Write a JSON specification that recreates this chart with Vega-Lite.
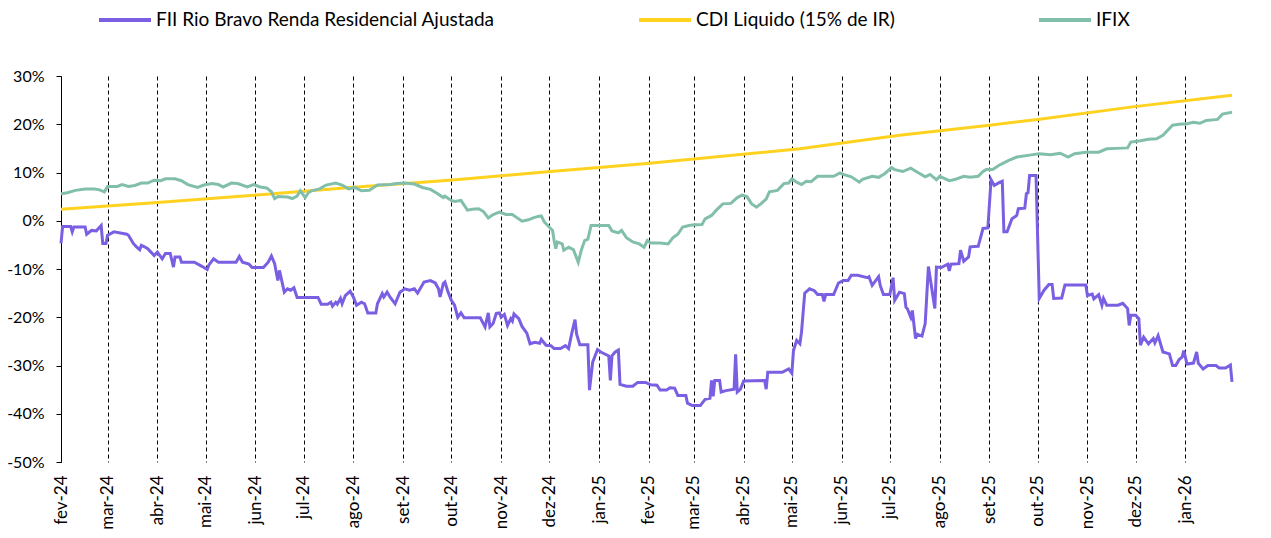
{
  "$schema": "https://vega.github.io/schema/vega-lite/v6.json",
  "width": 1171,
  "height": 386,
  "autosize": {"type": "none"},
  "padding": {"left": 61, "top": 76, "right": 39, "bottom": 76},
  "background": "white",
  "config": {"view": {"stroke": null}, "font": "Lato"},
  "datasets": {
    "fii": [
      {"d":"2024-02-01","v":-4.7},{"d":"2024-02-02","v":-1.2},{"d":"2024-02-07","v":-1.2},{"d":"2024-02-08","v":-2.3},{"d":"2024-02-09","v":-1.3},{"d":"2024-02-16","v":-1.3},{"d":"2024-02-17","v":-2.8},{"d":"2024-02-20","v":-2.0},{"d":"2024-02-23","v":-2.1},{"d":"2024-02-26","v":-1.0},{"d":"2024-02-27","v":-4.7},{"d":"2024-02-29","v":-4.7},
      {"d":"2024-03-01","v":-3.0},{"d":"2024-03-05","v":-2.3},{"d":"2024-03-13","v":-2.8},{"d":"2024-03-14","v":-3.0},{"d":"2024-03-17","v":-4.7},{"d":"2024-03-19","v":-5.4},{"d":"2024-03-21","v":-6.0},{"d":"2024-03-22","v":-5.1},{"d":"2024-03-24","v":-5.4},{"d":"2024-03-26","v":-5.8},{"d":"2024-03-28","v":-6.5},{"d":"2024-03-30","v":-7.2},
      {"d":"2024-04-01","v":-6.5},{"d":"2024-04-04","v":-7.9},{"d":"2024-04-06","v":-6.8},{"d":"2024-04-09","v":-6.8},{"d":"2024-04-11","v":-9.6},{"d":"2024-04-12","v":-7.5},{"d":"2024-04-15","v":-7.5},{"d":"2024-04-16","v":-8.6},{"d":"2024-04-24","v":-8.6},{"d":"2024-04-29","v":-9.5},
      {"d":"2024-05-02","v":-10.1},{"d":"2024-05-03","v":-9.2},{"d":"2024-05-06","v":-7.9},{"d":"2024-05-09","v":-8.6},{"d":"2024-05-20","v":-8.6},{"d":"2024-05-22","v":-7.4},{"d":"2024-05-24","v":-8.6},{"d":"2024-05-28","v":-9.0},{"d":"2024-05-30","v":-9.7},
      {"d":"2024-06-06","v":-9.7},{"d":"2024-06-09","v":-8.6},{"d":"2024-06-11","v":-7.3},{"d":"2024-06-13","v":-8.9},{"d":"2024-06-15","v":-12.4},{"d":"2024-06-16","v":-10.3},{"d":"2024-06-19","v":-14.8},{"d":"2024-06-21","v":-14.1},{"d":"2024-06-23","v":-14.4},{"d":"2024-06-25","v":-13.9},{"d":"2024-06-27","v":-15.9},
      {"d":"2024-07-10","v":-15.9},{"d":"2024-07-12","v":-17.3},{"d":"2024-07-16","v":-17.3},{"d":"2024-07-18","v":-16.9},{"d":"2024-07-19","v":-17.7},{"d":"2024-07-21","v":-16.9},{"d":"2024-07-22","v":-17.3},{"d":"2024-07-24","v":-16.1},{"d":"2024-07-25","v":-17.2},{"d":"2024-07-27","v":-15.5},{"d":"2024-07-30","v":-14.6},
      {"d":"2024-08-01","v":-15.8},{"d":"2024-08-03","v":-17.5},{"d":"2024-08-06","v":-16.9},{"d":"2024-08-08","v":-17.2},{"d":"2024-08-10","v":-19.1},{"d":"2024-08-15","v":-19.1},{"d":"2024-08-16","v":-17.2},{"d":"2024-08-19","v":-15.1},{"d":"2024-08-20","v":-15.8},{"d":"2024-08-22","v":-14.8},{"d":"2024-08-24","v":-15.9},{"d":"2024-08-27","v":-17.2},{"d":"2024-08-30","v":-14.8},
      {"d":"2024-09-02","v":-14.1},{"d":"2024-09-05","v":-14.4},{"d":"2024-09-08","v":-14.1},{"d":"2024-09-10","v":-15.0},{"d":"2024-09-14","v":-12.7},{"d":"2024-09-18","v":-12.4},{"d":"2024-09-21","v":-12.9},{"d":"2024-09-23","v":-14.1},{"d":"2024-09-24","v":-15.8},{"d":"2024-09-26","v":-13.0},{"d":"2024-09-27","v":-12.7},{"d":"2024-09-29","v":-14.8},
      {"d":"2024-10-01","v":-16.5},{"d":"2024-10-03","v":-17.5},{"d":"2024-10-05","v":-20.0},{"d":"2024-10-07","v":-19.1},{"d":"2024-10-09","v":-20.1},{"d":"2024-10-19","v":-20.1},{"d":"2024-10-22","v":-22.0},{"d":"2024-10-24","v":-19.1},{"d":"2024-10-25","v":-22.0},{"d":"2024-10-27","v":-21.3},{"d":"2024-10-29","v":-19.2},{"d":"2024-10-31","v":-19.1},
      {"d":"2024-11-01","v":-20.0},{"d":"2024-11-03","v":-19.4},{"d":"2024-11-05","v":-21.7},{"d":"2024-11-07","v":-20.3},{"d":"2024-11-08","v":-20.8},{"d":"2024-11-09","v":-19.3},{"d":"2024-11-12","v":-20.3},{"d":"2024-11-14","v":-21.9},{"d":"2024-11-17","v":-23.3},{"d":"2024-11-19","v":-25.5},{"d":"2024-11-22","v":-25.2},{"d":"2024-11-25","v":-25.4},{"d":"2024-11-26","v":-24.6},{"d":"2024-11-29","v":-25.8},
      {"d":"2024-12-02","v":-25.9},{"d":"2024-12-04","v":-26.5},{"d":"2024-12-08","v":-26.5},{"d":"2024-12-11","v":-25.9},{"d":"2024-12-13","v":-26.5},{"d":"2024-12-15","v":-23.3},{"d":"2024-12-17","v":-20.5},{"d":"2024-12-18","v":-23.5},{"d":"2024-12-20","v":-25.7},{"d":"2024-12-25","v":-25.7},{"d":"2024-12-26","v":-35.1},{"d":"2024-12-28","v":-29.3},{"d":"2024-12-31","v":-26.7},
      {"d":"2025-01-02","v":-27.2},{"d":"2025-01-07","v":-28.0},{"d":"2025-01-08","v":-33.1},{"d":"2025-01-09","v":-28.0},{"d":"2025-01-11","v":-27.2},{"d":"2025-01-13","v":-26.8},{"d":"2025-01-14","v":-33.9},{"d":"2025-01-18","v":-34.3},{"d":"2025-01-22","v":-34.3},{"d":"2025-01-25","v":-33.5},{"d":"2025-01-30","v":-33.5},
      {"d":"2025-02-02","v":-34.0},{"d":"2025-02-06","v":-34.1},{"d":"2025-02-08","v":-35.1},{"d":"2025-02-12","v":-35.1},{"d":"2025-02-14","v":-34.6},{"d":"2025-02-17","v":-34.7},{"d":"2025-02-19","v":-36.2},{"d":"2025-02-24","v":-36.2},{"d":"2025-02-25","v":-37.8},{"d":"2025-02-28","v":-38.3},
      {"d":"2025-03-05","v":-38.3},{"d":"2025-03-08","v":-37.0},{"d":"2025-03-11","v":-36.8},{"d":"2025-03-12","v":-33.1},{"d":"2025-03-13","v":-36.4},{"d":"2025-03-14","v":-33.1},{"d":"2025-03-17","v":-33.1},{"d":"2025-03-18","v":-35.5},{"d":"2025-03-21","v":-35.2},{"d":"2025-03-26","v":-34.9},{"d":"2025-03-27","v":-27.7},{"d":"2025-03-28","v":-35.5},{"d":"2025-03-30","v":-34.9},
      {"d":"2025-04-01","v":-33.2},{"d":"2025-04-14","v":-33.1},{"d":"2025-04-15","v":-34.9},{"d":"2025-04-16","v":-31.4},{"d":"2025-04-25","v":-31.4},{"d":"2025-04-29","v":-30.7},
      {"d":"2025-05-01","v":-31.6},{"d":"2025-05-02","v":-26.9},{"d":"2025-05-04","v":-24.8},{"d":"2025-05-06","v":-25.5},{"d":"2025-05-07","v":-23.1},{"d":"2025-05-09","v":-15.0},{"d":"2025-05-12","v":-14.1},{"d":"2025-05-15","v":-14.5},{"d":"2025-05-17","v":-15.3},{"d":"2025-05-20","v":-15.3},{"d":"2025-05-21","v":-16.7},{"d":"2025-05-22","v":-15.3},{"d":"2025-05-27","v":-15.3},{"d":"2025-05-30","v":-12.9},
      {"d":"2025-06-02","v":-12.4},{"d":"2025-06-05","v":-12.4},{"d":"2025-06-07","v":-11.3},{"d":"2025-06-11","v":-11.3},{"d":"2025-06-17","v":-11.8},{"d":"2025-06-18","v":-11.6},{"d":"2025-06-20","v":-13.4},{"d":"2025-06-24","v":-11.6},{"d":"2025-06-25","v":-13.4},{"d":"2025-06-27","v":-15.3},
      {"d":"2025-07-01","v":-15.3},{"d":"2025-07-03","v":-11.8},{"d":"2025-07-04","v":-16.5},{"d":"2025-07-07","v":-14.8},{"d":"2025-07-10","v":-15.1},{"d":"2025-07-11","v":-17.9},{"d":"2025-07-12","v":-18.3},{"d":"2025-07-14","v":-20.0},{"d":"2025-07-15","v":-18.6},{"d":"2025-07-17","v":-24.4},{"d":"2025-07-18","v":-23.5},{"d":"2025-07-21","v":-23.9},{"d":"2025-07-23","v":-21.3},{"d":"2025-07-25","v":-9.5},{"d":"2025-07-29","v":-18.2},{"d":"2025-07-30","v":-9.6},
      {"d":"2025-08-02","v":-9.7},{"d":"2025-08-06","v":-9.0},{"d":"2025-08-07","v":-10.4},{"d":"2025-08-08","v":-9.0},{"d":"2025-08-13","v":-8.9},{"d":"2025-08-14","v":-6.1},{"d":"2025-08-16","v":-8.4},{"d":"2025-08-19","v":-7.5},{"d":"2025-08-20","v":-5.4},{"d":"2025-08-25","v":-5.3},{"d":"2025-08-28","v":-1.6},{"d":"2025-08-31","v":-1.5},
      {"d":"2025-09-02","v":8.5},{"d":"2025-09-04","v":7.3},{"d":"2025-09-07","v":7.9},{"d":"2025-09-09","v":8.2},{"d":"2025-09-10","v":-2.3},{"d":"2025-09-12","v":-2.3},{"d":"2025-09-15","v":0.4},{"d":"2025-09-18","v":1.1},{"d":"2025-09-19","v":2.5},{"d":"2025-09-23","v":2.6},{"d":"2025-09-24","v":5.6},{"d":"2025-09-25","v":5.8},{"d":"2025-09-26","v":9.4},{"d":"2025-09-30","v":9.4},
      {"d":"2025-10-02","v":-16.1},{"d":"2025-10-05","v":-14.4},{"d":"2025-10-08","v":-13.2},{"d":"2025-10-10","v":-13.2},{"d":"2025-10-11","v":-16.1},{"d":"2025-10-16","v":-16.0},{"d":"2025-10-18","v":-13.3},{"d":"2025-10-31","v":-13.3},
      {"d":"2025-11-01","v":-15.5},{"d":"2025-11-04","v":-15.2},{"d":"2025-11-05","v":-16.2},{"d":"2025-11-08","v":-15.3},{"d":"2025-11-10","v":-17.5},{"d":"2025-11-11","v":-16.1},{"d":"2025-11-13","v":-17.5},{"d":"2025-11-20","v":-17.5},{"d":"2025-11-23","v":-17.1},{"d":"2025-11-26","v":-18.2},{"d":"2025-11-27","v":-21.7},{"d":"2025-11-28","v":-19.6},
      {"d":"2025-12-01","v":-19.6},{"d":"2025-12-03","v":-20.3},{"d":"2025-12-04","v":-25.8},{"d":"2025-12-06","v":-24.1},{"d":"2025-12-09","v":-25.5},{"d":"2025-12-12","v":-24.4},{"d":"2025-12-13","v":-25.3},{"d":"2025-12-15","v":-23.8},{"d":"2025-12-18","v":-27.2},{"d":"2025-12-22","v":-27.6},{"d":"2025-12-24","v":-30.0},{"d":"2025-12-26","v":-30.0},{"d":"2025-12-28","v":-28.8},{"d":"2025-12-30","v":-28.2},{"d":"2025-12-31","v":-26.9},
      {"d":"2026-01-02","v":-29.7},{"d":"2026-01-06","v":-29.5},{"d":"2026-01-08","v":-27.2},{"d":"2026-01-09","v":-29.5},{"d":"2026-01-12","v":-30.7},{"d":"2026-01-15","v":-30.0},{"d":"2026-01-20","v":-30.0},{"d":"2026-01-22","v":-30.5},{"d":"2026-01-26","v":-30.5},{"d":"2026-01-29","v":-29.9},{"d":"2026-01-30","v":-33.4}
    ],
    "cdi": [
      {"d":"2024-02-01","v":2.4},{"d":"2024-03-30","v":3.75},{"d":"2024-05-31","v":5.3},{"d":"2024-07-30","v":6.9},{"d":"2024-09-30","v":8.4},{"d":"2024-11-28","v":10.1},{"d":"2025-01-29","v":11.8},{"d":"2025-05-06","v":14.9},{"d":"2025-07-07","v":17.7},{"d":"2025-09-01","v":19.8},{"d":"2025-10-01","v":21.0},{"d":"2025-11-29","v":23.6},{"d":"2026-01-30","v":26.0}
    ],
    "ifix": [
      {"d":"2024-02-01","v":5.6},{"d":"2024-02-05","v":5.8},{"d":"2024-02-10","v":6.3},{"d":"2024-02-16","v":6.6},{"d":"2024-02-22","v":6.6},{"d":"2024-02-25","v":6.4},{"d":"2024-02-28","v":6.0},
      {"d":"2024-03-01","v":7.1},{"d":"2024-03-07","v":7.1},{"d":"2024-03-10","v":7.5},{"d":"2024-03-14","v":7.1},{"d":"2024-03-18","v":7.3},{"d":"2024-03-22","v":7.8},{"d":"2024-03-26","v":7.8},{"d":"2024-03-30","v":8.4},
      {"d":"2024-04-03","v":8.3},{"d":"2024-04-06","v":8.7},{"d":"2024-04-12","v":8.7},{"d":"2024-04-16","v":8.3},{"d":"2024-04-20","v":7.5},{"d":"2024-04-26","v":6.9},{"d":"2024-04-30","v":7.4},
      {"d":"2024-05-05","v":7.7},{"d":"2024-05-09","v":7.5},{"d":"2024-05-12","v":7.0},{"d":"2024-05-17","v":7.8},{"d":"2024-05-21","v":7.7},{"d":"2024-05-27","v":7.0},{"d":"2024-05-31","v":7.5},
      {"d":"2024-06-04","v":7.0},{"d":"2024-06-08","v":6.8},{"d":"2024-06-11","v":6.0},{"d":"2024-06-13","v":4.6},{"d":"2024-06-15","v":5.0},{"d":"2024-06-21","v":4.9},{"d":"2024-06-24","v":4.6},{"d":"2024-06-27","v":5.1},{"d":"2024-06-29","v":6.2},
      {"d":"2024-07-02","v":4.8},{"d":"2024-07-04","v":5.8},{"d":"2024-07-06","v":6.2},{"d":"2024-07-11","v":6.6},{"d":"2024-07-15","v":7.4},{"d":"2024-07-21","v":7.8},{"d":"2024-07-25","v":7.4},{"d":"2024-07-29","v":6.6},
      {"d":"2024-08-02","v":6.9},{"d":"2024-08-06","v":6.2},{"d":"2024-08-11","v":6.3},{"d":"2024-08-16","v":7.4},{"d":"2024-08-24","v":7.5},{"d":"2024-08-28","v":7.7},
      {"d":"2024-09-02","v":7.8},{"d":"2024-09-08","v":7.6},{"d":"2024-09-13","v":6.9},{"d":"2024-09-18","v":6.5},{"d":"2024-09-22","v":5.7},{"d":"2024-09-26","v":4.8},{"d":"2024-09-27","v":5.1},
      {"d":"2024-10-01","v":4.2},{"d":"2024-10-03","v":4.0},{"d":"2024-10-07","v":4.2},{"d":"2024-10-11","v":2.2},{"d":"2024-10-14","v":2.4},{"d":"2024-10-18","v":2.5},{"d":"2024-10-21","v":1.9},{"d":"2024-10-24","v":0.6},{"d":"2024-10-27","v":1.3},{"d":"2024-10-31","v":1.8},
      {"d":"2024-11-04","v":1.3},{"d":"2024-11-08","v":1.3},{"d":"2024-11-11","v":0.6},{"d":"2024-11-14","v":-0.1},{"d":"2024-11-18","v":0.2},{"d":"2024-11-21","v":0.6},{"d":"2024-11-24","v":0.9},{"d":"2024-11-26","v":1.0},{"d":"2024-11-28","v":-0.3},{"d":"2024-11-30","v":-1.0},
      {"d":"2024-12-03","v":-2.0},{"d":"2024-12-04","v":-4.1},{"d":"2024-12-05","v":-5.8},{"d":"2024-12-06","v":-4.4},{"d":"2024-12-09","v":-4.8},{"d":"2024-12-10","v":-6.1},{"d":"2024-12-13","v":-5.5},{"d":"2024-12-16","v":-6.0},{"d":"2024-12-19","v":-8.6},{"d":"2024-12-21","v":-6.0},{"d":"2024-12-23","v":-4.1},{"d":"2024-12-25","v":-3.8},{"d":"2024-12-27","v":-1.0},
      {"d":"2025-01-07","v":-1.0},{"d":"2025-01-09","v":-2.1},{"d":"2025-01-13","v":-2.5},{"d":"2025-01-15","v":-2.0},{"d":"2025-01-18","v":-3.5},{"d":"2025-01-22","v":-4.4},{"d":"2025-01-26","v":-4.8},{"d":"2025-01-29","v":-5.5},{"d":"2025-01-31","v":-4.1},
      {"d":"2025-02-02","v":-4.6},{"d":"2025-02-08","v":-4.6},{"d":"2025-02-13","v":-4.8},{"d":"2025-02-16","v":-3.5},{"d":"2025-02-19","v":-2.8},{"d":"2025-02-22","v":-1.3},{"d":"2025-02-26","v":-1.0},{"d":"2025-02-28","v":-0.9},
      {"d":"2025-03-06","v":-0.8},{"d":"2025-03-08","v":0.4},{"d":"2025-03-12","v":1.1},{"d":"2025-03-15","v":2.2},{"d":"2025-03-19","v":3.5},{"d":"2025-03-24","v":3.6},{"d":"2025-03-28","v":4.8},{"d":"2025-03-31","v":5.3},
      {"d":"2025-04-03","v":5.0},{"d":"2025-04-06","v":3.5},{"d":"2025-04-09","v":2.8},{"d":"2025-04-12","v":3.6},{"d":"2025-04-15","v":4.5},{"d":"2025-04-17","v":6.0},{"d":"2025-04-22","v":6.3},{"d":"2025-04-26","v":7.7},{"d":"2025-04-29","v":7.8},
      {"d":"2025-05-01","v":8.7},{"d":"2025-05-04","v":8.0},{"d":"2025-05-07","v":7.5},{"d":"2025-05-10","v":8.2},{"d":"2025-05-13","v":8.1},{"d":"2025-05-17","v":9.2},{"d":"2025-05-27","v":9.2},{"d":"2025-05-31","v":9.9},
      {"d":"2025-06-02","v":9.6},{"d":"2025-06-07","v":9.1},{"d":"2025-06-12","v":8.0},{"d":"2025-06-14","v":8.6},{"d":"2025-06-20","v":9.2},{"d":"2025-06-24","v":9.0},{"d":"2025-06-28","v":9.8},
      {"d":"2025-07-02","v":11.0},{"d":"2025-07-04","v":10.6},{"d":"2025-07-09","v":10.2},{"d":"2025-07-14","v":10.9},{"d":"2025-07-19","v":9.9},{"d":"2025-07-23","v":9.1},{"d":"2025-07-26","v":9.6},{"d":"2025-07-30","v":8.5},
      {"d":"2025-08-01","v":9.2},{"d":"2025-08-07","v":8.3},{"d":"2025-08-11","v":8.6},{"d":"2025-08-16","v":9.2},{"d":"2025-08-20","v":9.0},{"d":"2025-08-25","v":9.2},{"d":"2025-08-28","v":10.2},{"d":"2025-08-30","v":10.6},
      {"d":"2025-09-03","v":10.6},{"d":"2025-09-07","v":11.5},{"d":"2025-09-10","v":12.0},{"d":"2025-09-13","v":12.5},{"d":"2025-09-18","v":13.2},{"d":"2025-09-26","v":13.6},
      {"d":"2025-10-02","v":13.9},{"d":"2025-10-09","v":13.7},{"d":"2025-10-15","v":14.0},{"d":"2025-10-20","v":13.2},{"d":"2025-10-24","v":13.9},{"d":"2025-10-31","v":14.2},
      {"d":"2025-11-08","v":14.2},{"d":"2025-11-13","v":14.9},{"d":"2025-11-19","v":15.0},{"d":"2025-11-26","v":15.1},{"d":"2025-11-28","v":16.3},
      {"d":"2025-12-04","v":16.6},{"d":"2025-12-09","v":16.9},{"d":"2025-12-14","v":17.0},{"d":"2025-12-18","v":17.7},{"d":"2025-12-24","v":19.8},{"d":"2025-12-28","v":20.0},
      {"d":"2026-01-02","v":20.1},{"d":"2026-01-06","v":20.4},{"d":"2026-01-10","v":20.2},{"d":"2026-01-14","v":20.8},{"d":"2026-01-21","v":21.0},{"d":"2026-01-24","v":22.1},{"d":"2026-01-30","v":22.5}
    ]
  },
  "encoding": {
    "x": {
      "field": "d",
      "type": "temporal",
      "scale": {"type": "utc", "domain": [{"year": 2024, "month": 2, "date": 1, "utc": true}, {"year": 2026, "month": 1, "date": 30, "utc": true}]},
      "axis": {
        "title": null,
        "tickCount": {"interval": "month", "step": 1},
        "grid": true,
        "gridColor": "#000000",
        "gridDash": [4, 3],
        "gridWidth": 1,
        "gridOpacity": 1,
        "domain": false,
        "ticks": false,
        "tickSize": 0,
        "labelAngle": -90,
        "labelPadding": 13,
        "labelFont": "Lato",
        "labelFontSize": 17,
        "labelColor": "#000000",
        "labelOverlap": false,
        "labelExpr": "['jan','fev','mar','abr','mai','jun','jul','ago','set','out','nov','dez'][utcmonth(datum.value)] + '-' + utcFormat(datum.value, '%y')"
      }
    },
    "y": {
      "field": "v",
      "type": "quantitative",
      "scale": {"domain": [-50, 30], "nice": false, "zero": false},
      "axis": {
        "title": null,
        "values": [-50, -40, -30, -20, -10, 0, 10, 20, 30],
        "labelExpr": "datum.value + '%'",
        "grid": false,
        "domainColor": "#000000",
        "domainWidth": 1,
        "tickColor": "#000000",
        "tickSize": 5,
        "labelPadding": 12,
        "labelFont": "Lato",
        "labelFontSize": 16,
        "labelColor": "#000000"
      }
    }
  },
  "layer": [
    {
      "data": {"name": "fii"},
      "mark": {"type": "line", "strokeWidth": 3},
      "encoding": {
        "color": {
          "datum": "FII Rio Bravo Renda Residencial Ajustada",
          "type": "nominal",
          "scale": {"domain": ["FII Rio Bravo Renda Residencial Ajustada", "CDI Liquido (15% de IR)", "IFIX"], "range": ["#7B5FE3", "#FFD21F", "#82BFAB"]},
          "legend": {
            "orient": "none",
            "legendX": 36,
            "legendY": -84,
            "direction": "horizontal",
            "title": null,
            "symbolType": "stroke",
            "symbolSize": 2704,
            "symbolStrokeWidth": 4,
            "labelFont": "Lato",
            "labelFontSize": 19,
            "labelColor": "#000000",
            "labelOffset": 3,
            "labelLimit": 600,
            "columnPadding": 136,
            "padding": 0
          }
        }
      }
    },
    {
      "data": {"name": "cdi"},
      "mark": {"type": "line", "strokeWidth": 3},
      "encoding": {"color": {"datum": "CDI Liquido (15% de IR)", "type": "nominal"}}
    },
    {
      "data": {"name": "ifix"},
      "mark": {"type": "line", "strokeWidth": 3},
      "encoding": {"color": {"datum": "IFIX", "type": "nominal"}}
    }
  ]
}
